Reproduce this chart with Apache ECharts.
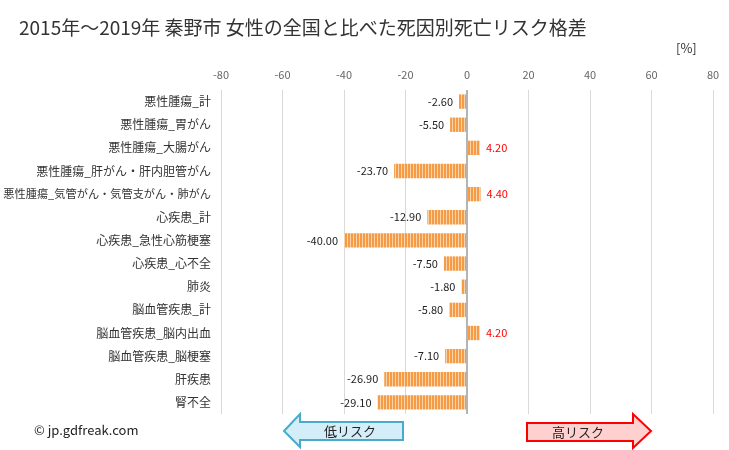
<!DOCTYPE html>
<html><head><meta charset="utf-8">
<script src="https://cdn.jsdelivr.net/npm/echarts@6/dist/echarts.min.js"></script>
<style>html,body{margin:0;padding:0;background:#fff}#c{width:729px;height:450px}</style>
</head><body><div id="c"></div>
<script>
const categories = ["悪性腫瘍_計","悪性腫瘍_胃がん","悪性腫瘍_大腸がん","悪性腫瘍_肝がん・肝内胆管がん","悪性腫瘍_気管がん・気管支がん・肺がん","心疾患_計","心疾患_急性心筋梗塞","心疾患_心不全","肺炎","脳血管疾患_計","脳血管疾患_脳内出血","脳血管疾患_脳梗塞","肝疾患","腎不全"];
const values = [-2.6,-5.5,4.2,-23.7,4.4,-12.9,-40.0,-7.5,-1.8,-5.8,4.2,-7.1,-26.9,-29.1];
const xTicks = [-80,-60,-40,-20,0,20,40,60,80];

const pc = document.createElement('canvas');
pc.width = 3; pc.height = 4;
const g = pc.getContext('2d');
g.fillStyle = '#fbd3a8'; g.fillRect(0,0,3,4);
g.fillStyle = '#f59a45'; g.fillRect(0,0,2,4);

const font = '"Noto Sans CJK JP", sans-serif';
const chart = echarts.init(document.getElementById('c'));
chart.setOption({
  animation:false,
  textStyle:{fontFamily:font},
  title:{text:'2015年～2019年 秦野市 女性の全国と比べた死因別死亡リスク格差',left:14,top:13,textStyle:{fontSize:19,fontWeight:'normal',color:'#333',fontFamily:font}},
  grid:{left:221,right:16,top:90,height:324,outerBoundsMode:'none',containLabel:false},
  xAxis:{type:'value',position:'top',min:xTicks[0],max:xTicks[xTicks.length-1],interval:20,
    axisLine:{show:false},axisTick:{show:false},
    axisLabel:{color:'#666',fontSize:11,margin:10,fontFamily:font},
    splitLine:{lineStyle:{color:'#d9d9d9',width:1}}},
  yAxis:{type:'category',inverse:true,
    data:categories.map(c=>c.length>18?{value:c,textStyle:{fontSize:11.2}}:c),
    axisLine:{show:false},axisTick:{show:false},
    axisLabel:{color:'#333',fontSize:12,margin:10,fontFamily:font}},
  series:[{type:'bar',barWidth:'62%',
    data:values.map(v=>({value:v,label:{position:v<0?'left':'right',color:v<0?'#222':'#ff0000'}})),
    itemStyle:{color:{image:pc,repeat:'repeat'}},
    label:{show:true,fontSize:11,distance:6,formatter:p=>p.value.toFixed(2),fontFamily:font},
    markLine:{silent:true,symbol:'none',label:{show:false},lineStyle:{color:'#b4b4b4',width:2,type:'solid'},data:[{xAxis:0}]}
  }],
  graphic:[
    {type:'text',left:676,top:42,style:{text:'[%]',fontSize:13,fill:'#333',fontFamily:font}},
    {type:'text',left:34,top:424,style:{text:'© jp.gdfreak.com',fontSize:13,fill:'#222',fontFamily:font}},
    {type:'polygon',shape:{points:[[284,431],[300,414],[300,422],[403,422],[403,440],[300,440],[300,447]]},style:{fill:'#d3eef9',stroke:'#4aaac9',lineWidth:2}},
    {type:'text',x:350,y:431,style:{text:'低リスク',fontSize:13,fill:'#222',align:'center',verticalAlign:'middle',fontFamily:font}},
    {type:'polygon',shape:{points:[[527,423],[633,423],[633,414],[651,431],[633,448],[633,441],[527,441]]},style:{fill:'#ffd0d0',stroke:'#ff0000',lineWidth:2}},
    {type:'text',x:578,y:432,style:{text:'高リスク',fontSize:13,fill:'#222',align:'center',verticalAlign:'middle',fontFamily:font}}
  ]
});
</script></body></html>
